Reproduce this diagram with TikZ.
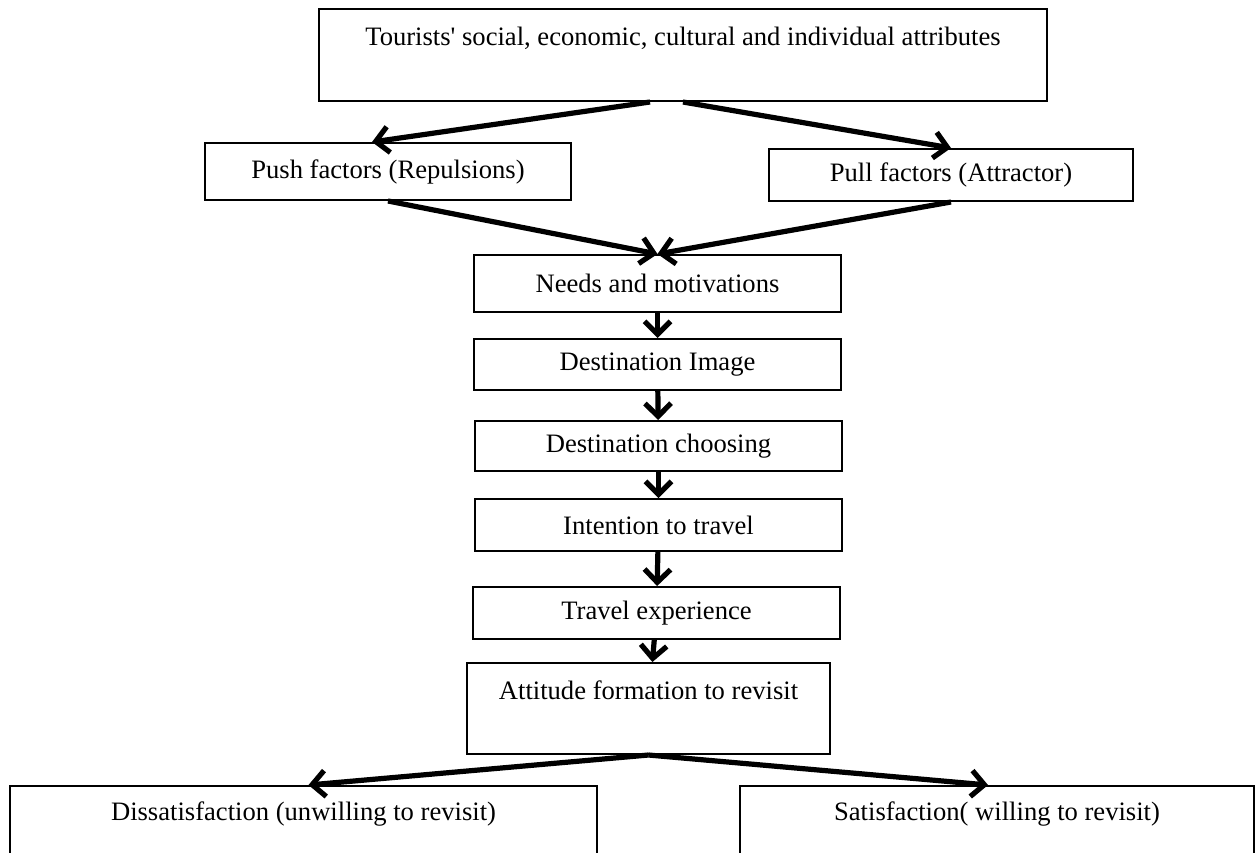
\documentclass[tikz,border=0pt]{standalone}
\usepackage{fontspec}
\setmainfont{Liberation Serif}
\usepackage{tikz}
\usetikzlibrary{arrows.meta, positioning}

\tikzset{
  stagebox/.style={draw, line width=1pt, rectangle, inner sep=0pt,
    minimum height=#1, font=\fontsize{13.3}{16}\selectfont, align=center},
  stagebox/.default=26pt,
  flow/.style={line width=2.6pt, -{Straight Barb[length=6.5pt, width=13pt, line width=2.6pt]}}
}

\begin{document}
\begin{tikzpicture}[x=0.5pt, y=-0.5pt]
        % Canvas
        \clip (0,0) rectangle (1257,852);

        % Attributes and factors
        \node[stagebox=46pt, minimum width=364pt] (attr) at (683,55)
          {Tourists\textquotesingle\ social, economic, cultural and individual attributes\\[-2pt]\strut};
        \node[stagebox=28.5pt, minimum width=183pt] (push) at (388,171.5) {Push factors (Repulsions)};
        \node[stagebox, minimum width=182pt] (pull) at (951,175) {Pull factors (Attractor)};

        % Main chain
        \node[stagebox=28.5pt, minimum width=183.5pt] (needs) at (657.5,283.5) {Needs and motivations};
        \node[stagebox=25.5pt, minimum width=183.5pt] (image) at (657.5,364.5) {Destination Image};
        \node[stagebox=25pt, minimum width=183.5pt] (choose) at (658.5,446) {Destination choosing};
        \node[stagebox, minimum width=183.5pt] (intent) at (658.5,525) {Intention to travel};
        \node[stagebox, minimum width=183.5pt] (exper) at (656.5,613) {Travel experience};
        \node[stagebox=45.5pt, minimum width=181.5pt] (attitude) at (648.5,708.5)
          {Attitude formation to revisit\\[-2pt]\strut};

        % Outcomes
        \node[stagebox=44pt, minimum width=293.5pt] (dissat) at (303.5,830)
          {Dissatisfaction (unwilling to revisit)\\[-2pt]\strut};
        \node[stagebox=44pt, minimum width=257pt] (sat) at (997,830)
          {Satisfaction( willing to revisit)\\[-2pt]\strut};

        % Arrows
        \draw[flow] ([xshift=-16.5pt]attr.south) -- ([xshift=-8pt]push.north);
        \draw[flow] (attr.south) -- (pull.north);
        \draw[flow] (push.south) -- (needs.north);
        \draw[flow] (pull.south) -- (needs.north);
        \foreach \a/\b in {needs/image, image/choose, choose/intent, intent/exper, exper/attitude}{
          \draw[flow] (\a) -- (\b);
        }
        \draw[flow] (attitude.south) -- ([xshift=2.5pt]dissat.north);
        \draw[flow] (attitude.south) -- ([xshift=-4.5pt]sat.north);
      \end{tikzpicture}
\end{document}
